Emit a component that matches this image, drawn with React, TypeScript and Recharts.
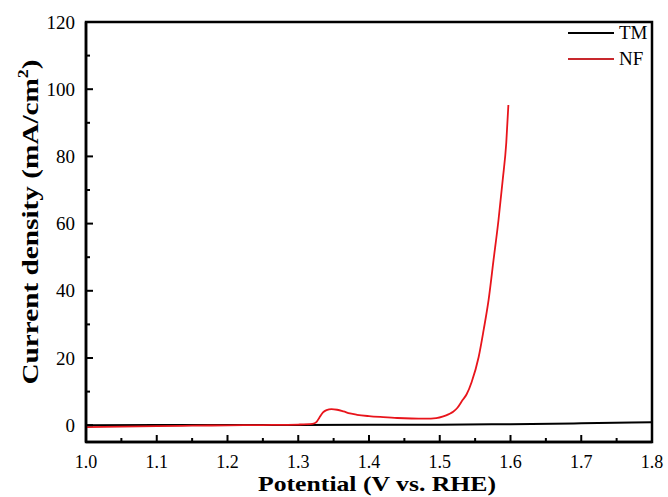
import { LineChart, Line, XAxis, YAxis, ReferenceArea, Label } from 'recharts';

// NF (nickel foam) polarization curve
const nfPotential = [
  1.0, 1.05, 1.1, 1.15, 1.2, 1.25, 1.3, 1.32, 1.326, 1.33, 1.335, 1.34, 1.347,
  1.355, 1.364, 1.373, 1.383, 1.4, 1.42, 1.44, 1.46, 1.48, 1.495, 1.505, 1.513,
  1.519, 1.525, 1.532, 1.538, 1.545, 1.555, 1.562, 1.569, 1.576, 1.583, 1.589,
  1.594, 1.597,
];
const nfCurrent = [
  -0.6, -0.45, -0.3, -0.15, -0.05, 0.05, 0.2, 0.4, 1.0, 2.3, 3.8, 4.5, 4.8, 4.6,
  4.1, 3.5, 3.1, 2.7, 2.4, 2.15, 2.0, 1.95, 2.1, 2.6, 3.3, 4.0, 5.2, 7.4, 9.2,
  12.8, 20.3, 28.3, 37.2, 49.1, 61, 73, 84, 95.3,
];

// TM curve (flat)
const tmPotential = [1.0, 1.2, 1.4, 1.5, 1.6, 1.7, 1.8];
const tmCurrent = [0, 0.05, 0.1, 0.15, 0.3, 0.55, 0.9];

const seriesNames = ['TM', 'NF'];
const seriesColors = ['#000000', '#e8141b'];

const X_DOMAIN: [number, number] = [1.0, 1.8];
const Y_DOMAIN: [number, number] = [-5, 120];
const xTicks = Array.from({ length: 17 }, (_, i) => +(1 + i * 0.05).toFixed(2));
const yTicks = Array.from({ length: 13 }, (_, i) => i * 10);

const nfData = nfPotential.map((p, i) => ({ p, j: nfCurrent[i] }));
const tmData = tmPotential.map((p, i) => ({ p, j: tmCurrent[i] }));

const FONT = '"Liberation Serif", "Times New Roman", serif';
const X_MARGIN = 10;
const Y_MARGIN = 10;

const XTick = (props: any) => {
  const { x, y, payload } = props;
  const v = payload.value as number;
  const major = Math.abs(v * 10 - Math.round(v * 10)) < 1e-6;
  const axisY = y - X_MARGIN;
  return (
    <g>
      <line x1={x} x2={x} y1={axisY} y2={axisY - (major ? 7 : 4)} stroke="#000" strokeWidth={2} />
      {major && (
        <text x={x} y={axisY + 26} textAnchor="middle" fontFamily={FONT} fontSize={18} fill="#000">
          {v.toFixed(1)}
        </text>
      )}
    </g>
  );
};

const YTick = (props: any) => {
  const { x, y, payload } = props;
  const v = payload.value as number;
  const major = v % 20 === 0;
  const axisX = x + Y_MARGIN;
  return (
    <g>
      <line x1={axisX} x2={axisX + (major ? 7 : 4)} y1={y} y2={y} stroke="#000" strokeWidth={2} />
      {major && (
        <text x={axisX - 11} y={y} dy="0.35em" textAnchor="end" fontFamily={FONT} fontSize={19} fill="#000">
          {v}
        </text>
      )}
    </g>
  );
};

const XLabel = () => (
  <text
    x={377}
    y={491}
    textAnchor="middle"
    fontFamily={FONT}
    fontWeight="bold"
    fontSize={21}
    fill="#000"
    textLength={238}
    lengthAdjust="spacingAndGlyphs"
  >
    Potential (V vs. RHE)
  </text>
);

const YLabel = () => {
  const cx = 38;
  const cy = 222;
  return (
    <text
      x={cx}
      y={cy}
      transform={`rotate(-90 ${cx} ${cy})`}
      textAnchor="middle"
      fontFamily={FONT}
      fontWeight="bold"
      fontSize={23}
      fill="#000"
      textLength={325}
      lengthAdjust="spacingAndGlyphs"
    >
      Current density (mA/cm
      <tspan dy={-10} fontSize={14}>2</tspan>
      <tspan dy={10}>)</tspan>
    </text>
  );
};

export default function App() {
  return (
    <div style={{ position: 'absolute', left: 0, top: 0, width: 668, height: 497, background: '#fff' }}>
      <LineChart width={668} height={497} margin={{ top: 22, right: 16, bottom: 0, left: 0 }}>
        <XAxis
          type="number"
          dataKey="p"
          domain={X_DOMAIN}
          ticks={xTicks}
          interval={0}
          height={55}
          tickSize={0}
          tickMargin={X_MARGIN}
          tick={<XTick />}
          axisLine={{ stroke: '#000', strokeWidth: 2.5 }}
          allowDataOverflow
        >
          <Label content={<XLabel />} />
        </XAxis>
        <YAxis
          type="number"
          domain={Y_DOMAIN}
          ticks={yTicks}
          interval={0}
          width={86}
          tickSize={0}
          tickMargin={Y_MARGIN}
          tick={<YTick />}
          axisLine={{ stroke: '#000', strokeWidth: 2.5 }}
          allowDataOverflow
        >
          <Label content={<YLabel />} />
        </YAxis>
        <ReferenceArea
          x1={X_DOMAIN[0]}
          x2={X_DOMAIN[1]}
          y1={Y_DOMAIN[0]}
          y2={Y_DOMAIN[1]}
          fill="none"
          fillOpacity={0}
          stroke="#000"
          strokeWidth={2.5}
          ifOverflow="visible"
        />
        <Line
          data={tmData}
          dataKey="j"
          name={seriesNames[0]}
          type="monotone"
          stroke={seriesColors[0]}
          strokeWidth={2}
          dot={false}
          isAnimationActive={false}
        />
        <Line
          data={nfData}
          dataKey="j"
          name={seriesNames[1]}
          type="monotone"
          stroke={seriesColors[1]}
          strokeWidth={1.8}
          dot={false}
          isAnimationActive={false}
        />
      </LineChart>
      <div style={{ position: 'absolute', left: 568, top: 20 }}>
        {seriesNames.map((name, i) => (
          <div key={name} style={{ display: 'flex', alignItems: 'center', height: 26 }}>
            <svg width={46} height={4} style={{ marginRight: 5 }}>
              <line x1={0} x2={46} y1={2} y2={2} stroke={i === 1 ? '#c8282d' : seriesColors[i]} strokeWidth={2} />
            </svg>
            <span style={{ fontFamily: FONT, fontSize: 19, color: '#000', lineHeight: '26px' }}>{name}</span>
          </div>
        ))}
      </div>
    </div>
  );
}
